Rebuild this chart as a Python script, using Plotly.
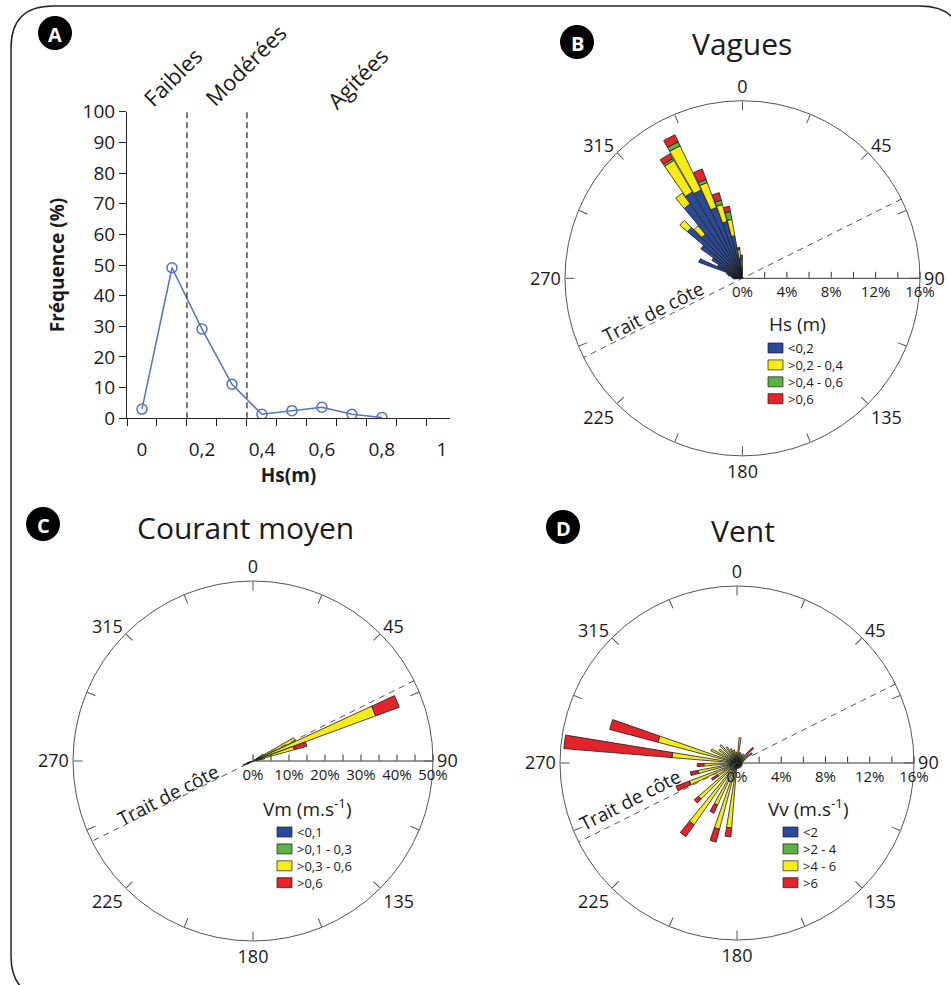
import plotly.graph_objects as go

W, H = 951, 985

# --- A : distribution des Hs
hs_m = [0, 0.1, 0.2, 0.3, 0.4, 0.5, 0.6, 0.7, 0.8]
hs_freq = [3.0, 49.1, 29.1, 11.1, 1.3, 2.5, 3.6, 1.3, 0.3]
hs_limits = [0.15, 0.35]
sea_states = ["Faibles", "Modérées", "Agitées"]

# --- B : vagues (% par secteur)
wave_dir = [267.5, 272.5, 277.5, 282.5, 287.5, 292.5, 297.5, 302.5, 307.5, 312.5,
            317.5, 322.5, 327.5, 332.5, 337.5, 342.5, 347.5, 352.5, 357.5]
wave_lt02 = [0.8, 0.9, 1.0, 1.3, 1.5, 4.2, 2.5, 3.2, 4.6, 6.5,
             5.2, 8.2, 9.0, 8.8, 6.8, 5.3, 3.9, 1.8, 1.0]
wave_02_04 = [0, 0, 0, 0, 0, 0, 0, 0, 0, 0.9,
              1.0, 1.2, 3.3, 4.4, 2.4, 1.6, 1.5, 0.8, 0.6]
wave_04_06 = [0, 0, 0, 0, 0, 0, 0, 0, 0, 0,
              0, 0, 0.2, 0.4, 0.3, 0.4, 0.7, 0.1, 0.2]
wave_gt06 = [0, 0, 0, 0, 0, 0, 0, 0, 0, 0,
             0, 0, 0.5, 0.7, 1.0, 0.7, 0.5, 0.1, 0.3]
wave_classes = ["<0,2", ">0,2 - 0,4", ">0,4 - 0,6", ">0,6"]

# --- C : courant moyen
curr_dir = [57.5, 62.5, 67.5, 72.5, 77.5, 242.5, 247.5, 252.5]
curr_lt01 = [0.3, 0.3, 0.3, 0.3, 0.3, 0.8, 1.2, 0.8]
curr_01_03 = [1.5, 2.5, 1.2, 1.0, 1.0, 1.2, 1.8, 0.8]
curr_03_06 = [1.5, 10.2, 34.8, 10.6, 2.0, 0, 0, 0]
curr_gt06 = [0, 0, 7.0, 3.6, 0, 0, 0, 0]
curr_classes = ["<0,1", ">0,1 - 0,3", ">0,3 - 0,6", ">0,6"]

# --- D : vent
wind_dir = [7, 17, 27, 37, 47, 57, 67, 77, 87, 97, 107, 117, 127, 137, 147, 157, 167, 177,
            187, 197, 207, 217, 227, 237, 247, 257, 267, 277, 287, 297, 307, 317, 327, 337, 347, 357]
wind_lt2 = [0.2] * 36
wind_2_4 = [0.4, 0.3, 0.3, 0.3, 0.3, 0.3, 0.3, 0.2, 0.2, 0.2, 0.2, 0.2, 0.2, 0.2, 0.2, 0.2, 0.2, 0.2,
            0.4, 0.5, 0.4, 0.6, 0.5, 0.4, 0.5, 0.4, 0.3, 0.5, 0.5, 0.4, 0.3, 0.4, 0.3, 0.3, 0.3, 0.3]
wind_4_6 = [1.7, 0.5, 0.4, 0.5, 0.7, 0.6, 0.3, 0.2, 0.1, 0.1, 0.1, 0.1, 0.1, 0.1, 0.1, 0.1, 0.1, 0.1,
            5.3, 5.5, 3.6, 6.0, 3.9, 1.5, 3.9, 3.0, 2.5, 5.2, 6.7, 2.0, 1.5, 1.6, 1.2, 0.9, 0.7, 0.5]
wind_gt6 = [0, 0, 0, 0, 0.8, 0.5, 0, 0, 0, 0, 0, 0, 0, 0, 0, 0, 0, 0,
            0.8, 1.2, 0.8, 1.3, 0.5, 0.6, 1.3, 0.7, 0.6, 9.8, 4.5, 0, 0, 0, 0, 0, 0, 0]
wind_classes = ["<2", ">2 - 4", ">4 - 6", ">6"]

COAST_AZIMUTH = 63.5  # orientation du trait de côte

BLUE, YELLOW, GREEN, RED = "#2a4b9b", "#f7ec13", "#5cb247", "#e3242b"
EDGE = "#1a1a1a"
FONT = "Open Sans"


def px(x, y):
    """Pixel position -> paper coordinates."""
    return x / W, 1 - y / H


def circle_domain(cx, cy, r):
    return dict(x=[(cx - r) / W, (cx + r) / W], y=[1 - (cy + r) / H, 1 - (cy - r) / H])


def polar_layout(cx, cy, r, rmax, step, label_step):
    ticks = list(range(0, rmax + 1, step))
    return dict(
        domain=circle_domain(cx, cy, r),
        bgcolor="white",
        barmode="stack",
        angularaxis=dict(
            rotation=90, direction="clockwise",
            tickmode="array",
            tickvals=[i * 22.5 for i in range(16)],
            ticktext=[str(int(i * 22.5)) if i % 2 == 0 else "" for i in range(16)],
            ticks="inside", ticklen=9, tickcolor="#555",
            linecolor="#555", linewidth=1, showgrid=False,
            tickfont=dict(size=18, color="#1a1a1a"),
        ),
        radialaxis=dict(
            range=[0, rmax], angle=0, tickangle=0,
            tickmode="array", tickvals=ticks,
            ticktext=[f"{t}%" if t % label_step == 0 else "" for t in ticks],
            ticks="inside", ticklen=6, tickcolor="#333",
            showline=True, linecolor="#333", linewidth=1, showgrid=False,
            tickfont=dict(size=15, color="#1a1a1a"),
        ),
    )


def add_rose(fig, subplot, directions, layers, names, colors, width):
    for values, name, color in zip(layers, names, colors):
        fig.add_trace(go.Barpolar(
            r=values, theta=directions, name=name, width=width,
            marker=dict(color=color, line=dict(color=EDGE, width=0.8)),
            subplot=subplot, showlegend=False, hoverinfo="skip",
        ))
    rmax = fig.layout[subplot].radialaxis.range[1]
    fig.add_trace(go.Scatterpolar(
        r=[rmax, 0, rmax], theta=[COAST_AZIMUTH, COAST_AZIMUTH, COAST_AZIMUTH + 180],
        mode="lines", line=dict(color="#555", width=1, dash="6px,5px"),
        subplot=subplot, showlegend=False, hoverinfo="skip",
    ))


def paper_text(text, x, y, size, angle=0, color="#1a1a1a", anchor="center"):
    ax, ay = px(x, y)
    return dict(text=text, x=ax, y=ay, xref="paper", yref="paper",
                xanchor=anchor, yanchor="middle", align=anchor, showarrow=False,
                textangle=angle, font=dict(size=size, color=color))


KEY_FONT = 13
KEY_ROW = KEY_FONT * 1.3  # plotly line spacing


def add_key(fig, title, title_x, names, colors, x, y):
    """Compact class key: swatches from x, first row centred on y (pixels)."""
    fig.add_annotation(**paper_text(title, title_x, y - 24, 19))
    for i, color in enumerate(colors):
        yc = y + i * KEY_ROW
        x0, y0 = px(x, yc + 5)
        x1, y1 = px(x + 15, yc - 5)
        fig.add_shape(type="rect", xref="paper", yref="paper", x0=x0, y0=y0, x1=x1, y1=y1,
                      fillcolor=color, line=dict(color=EDGE, width=0.7))
    fig.add_annotation(**paper_text("<br>".join(names), x + 18, y + 1.5 * KEY_ROW,
                                    KEY_FONT, anchor="left"))


fig = go.Figure()
fig.update_layout(
    polar=polar_layout(742.5, 278.3, 177.5, 16, 2, 4),
    polar2=polar_layout(253, 761, 180, 50, 5, 10),
    polar3=polar_layout(737, 763, 177, 16, 2, 4),
)

# A
fig.add_trace(go.Scatter(
    x=hs_m, y=hs_freq, mode="lines+markers", showlegend=False,
    line=dict(color="#5272c2", width=1.5),
    marker=dict(symbol="circle-open", size=10, color="#5272c2", line=dict(width=1.5)),
))

add_rose(fig, "polar", wave_dir, [wave_lt02, wave_02_04, wave_04_06, wave_gt06],
         wave_classes, [BLUE, YELLOW, GREEN, RED], 4.6)
add_rose(fig, "polar2", curr_dir, [curr_lt01, curr_01_03, curr_03_06, curr_gt06],
         curr_classes, [BLUE, GREEN, YELLOW, RED], 4.6)
add_rose(fig, "polar3", wind_dir, [wind_lt2, wind_2_4, wind_4_6, wind_gt6],
         wind_classes, [BLUE, GREEN, YELLOW, RED], 4.5)

add_key(fig, "Hs (m)", 797, wave_classes, [BLUE, YELLOW, GREEN, RED], 768, 348)
add_key(fig, "Vm (m.s<sup>-1</sup>)", 307, curr_classes, [BLUE, GREEN, YELLOW, RED], 277, 832)
add_key(fig, "Vv (m.s<sup>-1</sup>)", 808, wind_classes, [BLUE, GREEN, YELLOW, RED], 783, 832)

# limites des états de mer
for xl in hs_limits:
    fig.add_shape(type="line", xref="x", yref="y", x0=xl, x1=xl, y0=0, y1=100,
                  line=dict(color="#222", width=1.2, dash="6px,4px"))

for name, (x, y) in zip(sea_states, [(172, 77), (245, 65), (357, 78)]):
    fig.add_annotation(**paper_text(name, x, y, 22, angle=-45))

for text, x, y in [("Vagues", 742, 43), ("Courant moyen", 245, 527), ("Vent", 743, 530)]:
    fig.add_annotation(**paper_text(text, x, y, 30))

for x, y in [(653, 312), (168, 795), (630, 800)]:
    fig.add_annotation(**paper_text("Trait de côte", x, y, 19, angle=-27))

for letter, x, y in [("A", 55, 33), ("B", 577, 42), ("C", 43, 524), ("D", 563, 527)]:
    x0, y0 = px(x - 17, y + 17)
    x1, y1 = px(x + 17, y - 17)
    fig.add_shape(type="circle", xref="paper", yref="paper", x0=x0, y0=y0, x1=x1, y1=y1,
                  fillcolor="black", line=dict(color="black", width=0), layer="below")
    fig.add_annotation(**paper_text(f"<b>{letter}</b>", x, y + 1, 20, color="white"))


def frame_path(x0, y0, x1, y1, rad):
    def p(x, y):
        a, b = px(x, y)
        return f"{a:.4f},{b:.4f}"
    return (f"M{p(x0 + rad, y0)} L{p(x1 - rad, y0)} Q{p(x1, y0)} {p(x1, y0 + rad)} "
            f"L{p(x1, y1 - rad)} Q{p(x1, y1)} {p(x1 - rad, y1)} "
            f"L{p(x0 + rad, y1)} Q{p(x0, y1)} {p(x0, y1 - rad)} "
            f"L{p(x0, y0 + rad)} Q{p(x0, y0)} {p(x0 + rad, y0)} Z")


fig.add_shape(type="path", xref="paper", yref="paper", path=frame_path(11, 6, 962, 998, 42),
              line=dict(color="#222", width=1.5))

xa0, ya0 = px(127, 418.3)
xa1, ya1 = px(450, 111.7)
fig.update_layout(
    width=W, height=H,
    margin=dict(l=0, r=0, t=0, b=0, autoexpand=False),
    paper_bgcolor="white", plot_bgcolor="white",
    font=dict(family=FONT, color="#1a1a1a"),
    separators=", ",
    showlegend=False,
    xaxis=dict(
        domain=[xa0, xa1], range=[-0.05, 1.027],
        tickvals=[0, 0.2, 0.4, 0.6, 0.8, 1], ticks="", ticklabelstandoff=14,
        minor=dict(tick0=-0.05, dtick=0.1, ticks="outside", ticklen=7, tickcolor="#222"),
        showline=True, linecolor="#222", showgrid=False, zeroline=False,
        tickfont=dict(size=19),
        title=dict(text="Hs(m)", font=dict(size=19, weight="bold"), standoff=6),
    ),
    yaxis=dict(
        domain=[ya0, ya1], range=[0, 100], dtick=10,
        ticks="outside", ticklen=7, tickcolor="#222",
        showline=True, linecolor="#222", showgrid=False, zeroline=False,
        tickfont=dict(size=19),
        title=dict(text="Fréquence (%)", font=dict(size=19, weight="bold"), standoff=12),
    ),
)

fig.write_html("out.html", config={"responsive": False, "displayModeBar": False},
               post_script="document.body.style.margin='0';")
